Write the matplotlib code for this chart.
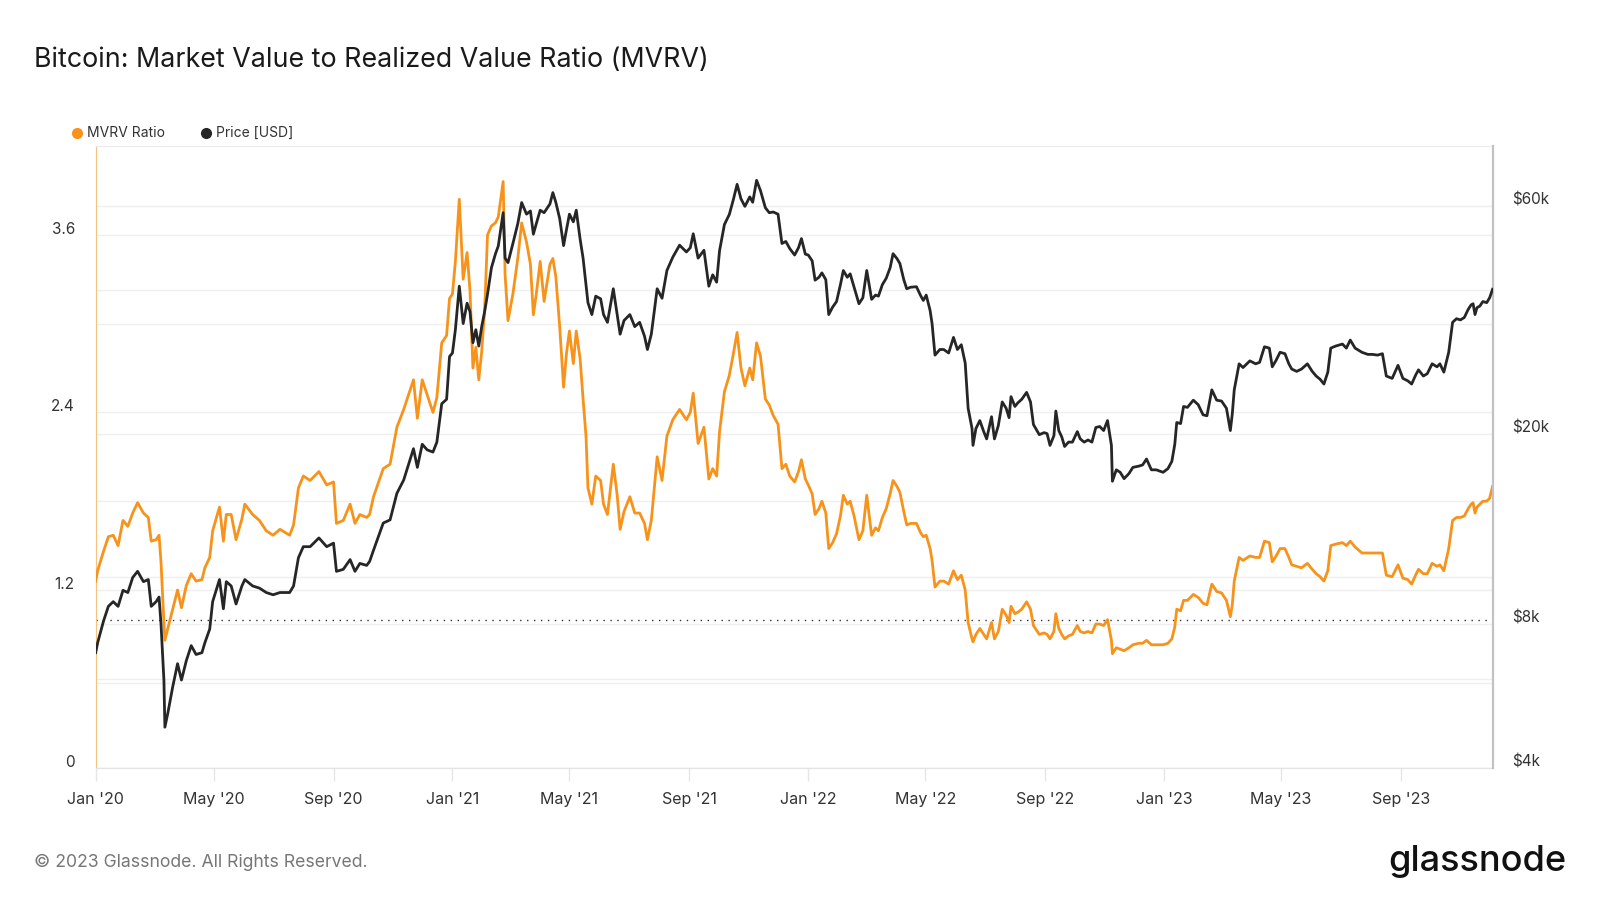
import numpy as np
import pandas as pd
import matplotlib
matplotlib.use("Agg")
import matplotlib.pyplot as plt
import matplotlib.dates as mdates
from matplotlib.lines import Line2D
from matplotlib.transforms import ScaledTranslation, blended_transform_factory
from matplotlib.ticker import FixedLocator, NullFormatter

plt.rcParams['font.family'] = ['Inter', 'DejaVu Sans']

# days since 2020-01-01, price in $k, MVRV ratio
days = [0, 2, 8, 13, 18, 23, 28, 33, 38, 43, 49, 54, 57, 62, 65, 67, 70, 71, 74, 79,
        84, 88, 93, 98, 103, 109, 112, 117, 120, 127, 131, 134, 139, 144, 150, 153, 161, 168, 175, 182,
        189, 199, 203, 208, 213, 220, 229, 237, 244, 247, 254, 261, 266, 271, 278, 281, 285, 295, 302, 309,
        316, 326, 330, 335, 340, 346, 350, 355, 360, 363, 366, 369, 373, 377, 381, 384, 387, 390, 393, 396,
        399, 402, 406, 410, 413, 418, 420, 423, 428, 433, 437, 442, 446, 449, 452, 456, 460, 466, 469, 472,
        476, 480, 483, 486, 490, 493, 497, 500, 503, 505, 509, 513, 518, 521, 525, 531, 535, 538, 542, 548,
        553, 558, 563, 566, 570, 576, 581, 586, 592, 599, 606, 610, 613, 618, 624, 629, 633, 637, 640, 645,
        650, 654, 658, 662, 666, 671, 674, 678, 682, 687, 691, 695, 700, 704, 708, 712, 717, 721, 724, 728,
        731, 735, 738, 742, 745, 749, 752, 756, 760, 764, 767, 771, 774, 778, 783, 787, 791, 796, 800, 803,
        807, 811, 815, 818, 822, 825, 829, 832, 836, 842, 846, 849, 852, 856, 858, 861, 866, 870, 875, 880,
        884, 888, 892, 895, 899, 900, 903, 907, 911, 914, 919, 922, 926, 930, 934, 937, 939, 943, 946, 950,
        955, 959, 962, 968, 973, 976, 979, 983, 985, 988, 991, 994, 998, 1002, 1007, 1010, 1014, 1018, 1022, 1026,
        1030, 1034, 1038, 1042, 1043, 1047, 1051, 1055, 1060, 1064, 1070, 1074, 1078, 1083, 1088, 1095, 1100, 1104, 1107, 1109,
        1113, 1116, 1120, 1126, 1131, 1136, 1140, 1145, 1150, 1155, 1160, 1164, 1166, 1168, 1173, 1177, 1184, 1190, 1194, 1199,
        1204, 1207, 1211, 1215, 1220, 1224, 1227, 1232, 1237, 1243, 1248, 1252, 1256, 1260, 1264, 1267, 1272, 1279, 1283, 1287,
        1292, 1299, 1305, 1310, 1315, 1320, 1324, 1330, 1336, 1341, 1346, 1350, 1354, 1357, 1362, 1366, 1371, 1376, 1379, 1383,
        1386, 1388, 1392, 1396, 1400, 1404, 1408, 1411, 1413, 1415, 1417, 1420, 1423, 1427, 1430, 1433]

price_k = [6.96, 7.3, 8.1, 8.7, 8.9, 8.7, 9.4, 9.3, 10.0, 10.3, 9.8, 9.9, 8.7, 8.9, 9.1, 8.0, 6.1, 4.86, 5.2, 5.9,
           6.6, 6.1, 6.7, 7.2, 6.9, 6.96, 7.3, 7.8, 8.9, 9.9, 8.6, 9.8, 9.6, 8.8, 9.6, 9.9, 9.6, 9.5, 9.3, 9.2,
           9.3, 9.3, 9.6, 11.0, 11.6, 11.6, 12.1, 11.6, 11.8, 10.3, 10.4, 10.9, 10.3, 10.7, 10.6, 10.8, 11.4, 13.0, 13.2, 15.0,
           16.0, 18.6, 17.0, 19.0, 18.5, 18.3, 19.2, 23.1, 23.6, 29.0, 29.5, 33.0, 40.7, 34.0, 37.5, 36.0, 31.0, 33.0, 30.5, 33.5,
           36.0, 39.2, 44.5, 47.5, 49.4, 58.0, 46.6, 45.6, 50.0, 55.0, 60.9, 57.6, 58.5, 52.3, 55.0, 58.7, 58.0, 60.5, 63.9, 61.0,
           56.4, 49.5, 53.5, 57.6, 55.5, 58.7, 51.0, 46.6, 41.0, 37.6, 35.5, 38.8, 38.3, 35.5, 34.2, 40.2, 35.5, 32.3, 34.5, 35.5,
           33.5, 34.2, 32.0, 30.0, 32.3, 40.2, 38.4, 43.9, 46.8, 49.6, 48.0, 49.0, 52.4, 46.6, 48.4, 40.7, 43.0, 41.5, 48.3, 54.8,
           57.5, 61.6, 66.5, 62.0, 59.8, 62.6, 61.0, 67.8, 64.5, 59.4, 58.0, 58.2, 57.6, 50.0, 50.5, 48.8, 47.3, 49.0, 51.2, 47.5,
           47.3, 46.0, 41.9, 42.5, 43.4, 42.0, 35.5, 36.8, 37.8, 41.0, 43.9, 42.5, 43.2, 40.5, 37.4, 38.5, 43.9, 38.2, 39.0, 38.8,
           41.0, 42.3, 44.5, 47.6, 46.5, 45.4, 42.0, 40.2, 40.5, 40.6, 39.0, 38.0, 39.0, 36.2, 34.0, 29.2, 30.0, 30.0, 29.5, 31.8,
           30.0, 30.7, 28.1, 22.6, 20.5, 18.9, 20.5, 21.3, 20.2, 19.5, 21.7, 19.5, 20.8, 23.3, 22.6, 21.6, 23.9, 22.8, 23.2, 23.6,
           24.4, 23.3, 20.9, 19.9, 20.1, 20.0, 18.9, 19.8, 22.3, 20.3, 19.7, 18.8, 19.2, 19.2, 20.2, 19.5, 19.2, 19.4, 19.2, 20.6,
           20.7, 20.3, 21.3, 18.9, 15.9, 16.8, 16.6, 16.1, 16.5, 17.0, 17.1, 17.2, 17.7, 16.8, 16.8, 16.6, 16.9, 17.5, 19.0, 21.1,
           21.0, 22.8, 22.7, 23.5, 23.0, 21.9, 21.8, 24.7, 23.5, 23.4, 22.6, 20.3, 22.0, 24.7, 28.0, 27.5, 28.4, 28.0, 28.2, 30.4,
           30.2, 27.6, 28.5, 29.6, 29.4, 28.0, 27.3, 27.0, 27.3, 28.0, 27.0, 26.4, 26.0, 25.4, 26.9, 30.2, 30.5, 30.8, 30.2, 31.4,
           30.2, 29.6, 29.3, 29.3, 29.2, 29.4, 26.4, 26.1, 27.8, 26.1, 25.8, 25.4, 26.5, 27.2, 26.4, 26.7, 28.0, 27.6, 28.0, 26.9,
           28.5, 29.6, 34.2, 34.8, 34.6, 35.0, 36.4, 37.2, 37.4, 35.5, 36.7, 37.0, 37.8, 37.6, 38.5, 40.1]

mvrv = [1.26, 1.33, 1.46, 1.56, 1.57, 1.50, 1.67, 1.63, 1.72, 1.79, 1.72, 1.69, 1.53, 1.54, 1.57, 1.39, 0.98, 0.86, 0.94, 1.07,
        1.20, 1.08, 1.23, 1.31, 1.26, 1.27, 1.35, 1.42, 1.60, 1.76, 1.53, 1.71, 1.71, 1.54, 1.68, 1.78, 1.71, 1.67, 1.60, 1.57,
        1.61, 1.57, 1.64, 1.89, 1.97, 1.94, 2.00, 1.91, 1.93, 1.65, 1.67, 1.78, 1.65, 1.71, 1.69, 1.71, 1.83, 2.02, 2.05, 2.30,
        2.42, 2.62, 2.36, 2.62, 2.52, 2.40, 2.50, 2.87, 2.92, 3.17, 3.20, 3.42, 3.84, 3.30, 3.48, 3.22, 2.70, 2.84, 2.62, 2.81,
        3.09, 3.60, 3.66, 3.68, 3.72, 3.96, 3.33, 3.02, 3.20, 3.44, 3.68, 3.55, 3.40, 3.06, 3.20, 3.42, 3.15, 3.40, 3.44, 3.32,
        2.98, 2.57, 2.80, 2.95, 2.73, 2.95, 2.76, 2.49, 2.24, 1.89, 1.78, 1.97, 1.94, 1.78, 1.71, 2.05, 1.84, 1.61, 1.73, 1.83,
        1.72, 1.72, 1.65, 1.54, 1.67, 2.10, 1.94, 2.24, 2.35, 2.42, 2.35, 2.40, 2.53, 2.19, 2.30, 1.95, 2.02, 1.97, 2.27, 2.54,
        2.65, 2.79, 2.94, 2.70, 2.58, 2.70, 2.62, 2.87, 2.78, 2.49, 2.45, 2.38, 2.32, 2.02, 2.05, 1.97, 1.93, 2.00, 2.08, 1.95,
        1.91, 1.85, 1.71, 1.75, 1.80, 1.72, 1.48, 1.52, 1.58, 1.70, 1.84, 1.78, 1.80, 1.70, 1.54, 1.60, 1.84, 1.57, 1.62, 1.60,
        1.69, 1.75, 1.85, 1.94, 1.90, 1.86, 1.73, 1.64, 1.65, 1.65, 1.59, 1.56, 1.57, 1.48, 1.40, 1.22, 1.26, 1.26, 1.24, 1.33,
        1.27, 1.30, 1.20, 0.98, 0.87, 0.85, 0.90, 0.94, 0.90, 0.87, 0.98, 0.87, 0.92, 1.07, 1.03, 0.98, 1.09, 1.04, 1.05, 1.07,
        1.12, 1.07, 0.96, 0.90, 0.91, 0.90, 0.87, 0.92, 1.04, 0.94, 0.90, 0.87, 0.89, 0.90, 0.96, 0.92, 0.91, 0.92, 0.91, 0.97,
        0.97, 0.96, 1.00, 0.86, 0.77, 0.81, 0.80, 0.79, 0.81, 0.83, 0.84, 0.84, 0.86, 0.83, 0.83, 0.83, 0.84, 0.87, 0.95, 1.07,
        1.06, 1.13, 1.13, 1.17, 1.15, 1.11, 1.10, 1.24, 1.19, 1.18, 1.13, 1.02, 1.10, 1.26, 1.42, 1.40, 1.43, 1.42, 1.42, 1.53,
        1.52, 1.39, 1.43, 1.48, 1.48, 1.42, 1.37, 1.36, 1.35, 1.38, 1.34, 1.31, 1.29, 1.26, 1.33, 1.50, 1.51, 1.52, 1.50, 1.53,
        1.49, 1.45, 1.45, 1.45, 1.45, 1.45, 1.30, 1.29, 1.37, 1.28, 1.27, 1.24, 1.30, 1.34, 1.31, 1.31, 1.38, 1.36, 1.37, 1.33,
        1.42, 1.48, 1.67, 1.69, 1.69, 1.70, 1.75, 1.78, 1.79, 1.72, 1.76, 1.78, 1.80, 1.80, 1.82, 1.90]

left_ticks = [0, 1.2, 2.4, 3.6]
left_minor = [0.6, 1.8, 3.0]
right_ticks = [4000, 8000, 20000, 60000]
right_labels = ['$4k', '$8k', '$20k', '$60k']
right_minor = [6000, 10000, 40000]

dates = pd.Timestamp('2020-01-01') + pd.to_timedelta(days, unit='D')
price = np.array(price_k) * 1000

orange = '#f7931a'
dark = '#262626'
grid_c = '#efefef'

fig = plt.figure(figsize=(16, 9), dpi=100)
ax1 = fig.add_axes([0.0598, 0.1471, 0.8733, 0.6907])
ax2 = ax1.twinx()

# gridlines for both scales, kept underneath the lines
for v in left_ticks + left_minor:
    ax1.axhline(v, color=grid_c, lw=1, zorder=0)
tr = blended_transform_factory(ax1.transAxes, ax2.transData)
for v in right_ticks + right_minor:
    ax1.plot([0, 1], [v, v], transform=tr, color=grid_c, lw=1, zorder=0)

ax1.axhline(1.0, color='#333333', lw=1, ls=(0, (1, 4)), zorder=1)
ax1.plot(dates, mvrv, color=orange, lw=2, zorder=3)
ax2.plot(dates, price, color=dark, lw=2, zorder=3)

ax1.set_xlim(pd.Timestamp('2020-01-01'), pd.Timestamp('2020-01-01') + pd.Timedelta(days=1433.4))
ax1.set_ylim(0, 4.2)
ax2.set_yscale('log')
ax2.set_ylim(4000, 80000)

ax1.set_yticks(left_ticks)
ax1.set_yticklabels(['0', '1.2', '2.4', '3.6'])
ax2.yaxis.set_major_locator(FixedLocator(right_ticks))
ax2.yaxis.set_minor_locator(FixedLocator([]))
ax2.yaxis.set_minor_formatter(NullFormatter())
ax2.set_yticklabels(right_labels)

ax1.tick_params(axis='y', length=0, pad=15, labelsize=11, labelcolor='#333333')
ax2.tick_params(axis='y', which='both', length=0, pad=14, labelsize=11, labelcolor='#333333')
off = ScaledTranslation(0, 5 / 72, fig.dpi_scale_trans)
for lab in ax1.get_yticklabels() + ax2.get_yticklabels():
    lab.set_transform(lab.get_transform() + off)

ax1.xaxis.set_major_locator(mdates.MonthLocator(bymonth=[1, 5, 9]))
ax1.xaxis.set_major_formatter(mdates.DateFormatter("%b '%y"))
ax1.tick_params(axis='x', length=9, width=1, color='#e6e6e6', pad=8.5,
                labelsize=11.5, labelcolor='#333333')

for s in ['top', 'bottom', 'left', 'right']:
    ax2.spines[s].set_visible(False)
ax1.spines['right'].set_visible(False)
ax1.spines['top'].set_color('#ebebeb')
ax1.spines['bottom'].set_color('#e3e3e3')
ax1.spines['left'].set_color('#f8c27e')
ax2.spines['right'].set_visible(True)
ax2.spines['right'].set_color('#c2c2c2')
ax2.spines['right'].set_linewidth(1.6)

# legend
fig.add_artist(Line2D([77 / 1600], [1 - 133 / 900], marker='o', ms=7, color=orange, ls='',
                      transform=fig.transFigure))
fig.text(87 / 1600, 1 - 133 / 900, 'MVRV Ratio', fontsize=10, color='#333333', va='center')
fig.add_artist(Line2D([206 / 1600], [1 - 133 / 900], marker='o', ms=7, color=dark, ls='',
                      transform=fig.transFigure))
fig.text(216 / 1600, 1 - 133 / 900, 'Price [USD]', fontsize=10, color='#333333', va='center')

fig.text(34 / 1600, 1 - 60 / 900, 'Bitcoin: Market Value to Realized Value Ratio (MVRV)',
         fontsize=19.3, color='#1a1a1a', va='center')
fig.text(34 / 1600, 1 - 862 / 900, '© 2023 Glassnode. All Rights Reserved.',
         fontsize=12.7, color='#777777', va='center')
fig.text(1566 / 1600, 1 - 862 / 900, 'glassnode', fontsize=26, color='#111111',
         va='center', ha='right', fontweight='medium')

fig.savefig('out.png', dpi=100)
